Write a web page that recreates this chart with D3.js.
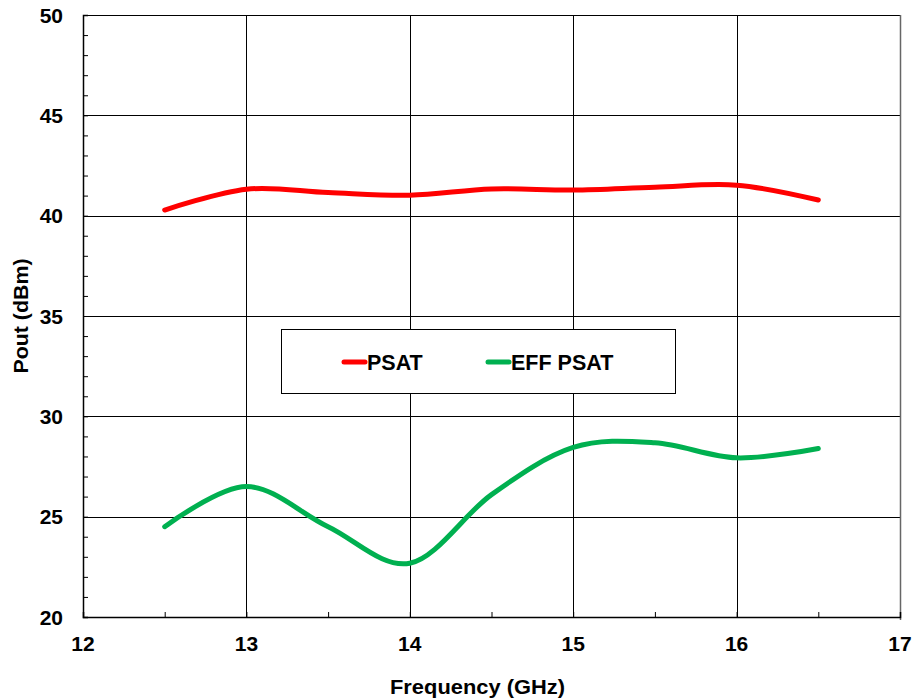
<!DOCTYPE html>
<html><head><meta charset="utf-8">
<script src="https://cdn.jsdelivr.net/npm/d3@7"></script>
<style>
html,body{margin:0;padding:0;background:#fff;}
text{font-family:"Liberation Sans",Arial,sans-serif;font-weight:bold;fill:#000;}
</style></head>
<body>
<svg id="chart" width="914" height="700"></svg>
<script>
const freq = [12.5, 13, 13.5, 14, 14.5, 15, 15.5, 16, 16.5];
const psat = [40.28, 41.32, 41.15, 41.02, 41.33, 41.28, 41.42, 41.52, 40.78];
const effPsat = [24.5, 26.5, 24.5, 22.68, 26.1, 28.45, 28.68, 27.93, 28.4];
const xTicks = [12, 13, 14, 15, 16, 17];
const yTicks = [20, 25, 30, 35, 40, 45, 50];
const seriesNames = ["PSAT", "EFF PSAT"];
const seriesColors = ["#ff0000", "#00b050"];

const svg = d3.select("#chart");
const L = 83, R = 900, T = 15, B = 617;
const x = d3.scaleLinear().domain([12, 17]).range([L, R]);
const y = d3.scaleLinear().domain([20, 50]).range([B, T]);

// gridlines
const g = svg.append("g");
g.selectAll(".vg").data(xTicks.slice(1, -1)).join("line")
  .attr("x1", d => Math.round(x(d)) + 0.5).attr("x2", d => Math.round(x(d)) + 0.5)
  .attr("y1", T).attr("y2", B).attr("stroke", "#000").attr("stroke-width", 1);
g.selectAll(".hg").data(yTicks.slice(1)).join("line")
  .attr("y1", d => Math.round(y(d)) + 0.5).attr("y2", d => Math.round(y(d)) + 0.5)
  .attr("x1", L).attr("x2", R).attr("stroke", "#000").attr("stroke-width", 1);
// right border
g.append("line").attr("x1", R + 0.5).attr("x2", R + 0.5).attr("y1", T).attr("y2", B + 3)
  .attr("stroke", "#666").attr("stroke-width", 1.5);

// axes
const yAxis = d3.axisLeft(y).tickValues(d3.range(20, 51, 1)).tickSize(-5).tickFormat("");
const ya = svg.append("g").attr("transform", `translate(${L},0)`).call(yAxis);
ya.select(".domain").attr("stroke", "#000").attr("stroke-width", 1.5);
const xAxis = d3.axisBottom(x).tickValues(d3.range(12, 17.01, 0.5)).tickSize(-5).tickFormat("");
const xa = svg.append("g").attr("transform", `translate(0,${B})`).call(xAxis);
xa.select(".domain").attr("stroke", "#000").attr("stroke-width", 1.5);

// tick labels
svg.selectAll(".xl").data(xTicks).join("text")
  .attr("x", d => x(d)).attr("y", 651).attr("text-anchor", "middle")
  .style("font-size", "21px").text(d => d);
svg.selectAll(".yl").data(yTicks).join("text")
  .attr("x", 63).attr("y", d => y(d) + 7.5).attr("text-anchor", "end")
  .style("font-size", "21px").text(d => d);

// titles
svg.append("text").attr("x", (L + R) / 2 - 14).attr("y", 694).attr("text-anchor", "middle")
  .style("font-size", "20.5px").text("Frequency (GHz)")
  .attr("textLength", 175).attr("lengthAdjust", "spacingAndGlyphs");
svg.append("text").attr("transform", "translate(28,316) rotate(-90)").attr("text-anchor", "middle")
  .style("font-size", "20.5px").text("Pout (dBm)")
  .attr("textLength", 115).attr("lengthAdjust", "spacingAndGlyphs");

// lines
const line = d3.line().x(d => x(d[0])).y(d => y(d[1])).curve(d3.curveCatmullRom.alpha(0));
[psat, effPsat].forEach((s, i) => {
  svg.append("path").datum(freq.map((f, j) => [f, s[j]]))
    .attr("d", line).attr("fill", "none").attr("stroke", seriesColors[i])
    .attr("stroke-width", 5).attr("stroke-linecap", "round").attr("stroke-linejoin", "round");
});

// legend
const lg = svg.append("g");
lg.append("rect").attr("x", 281.5).attr("y", 329.5).attr("width", 394).attr("height", 64)
  .attr("fill", "#fff").attr("stroke", "#000").attr("stroke-width", 1);
const legX = [342, 486];
seriesNames.forEach((n, i) => {
  lg.append("line").attr("x1", legX[i] + 2).attr("x2", legX[i] + 23).attr("y1", 362).attr("y2", 362)
    .attr("stroke", seriesColors[i]).attr("stroke-width", 5).attr("stroke-linecap", "round");
  lg.append("text").attr("x", legX[i] + 25).attr("y", 369.5).style("font-size", "21.5px").text(n);
});
</script>
</body></html>
